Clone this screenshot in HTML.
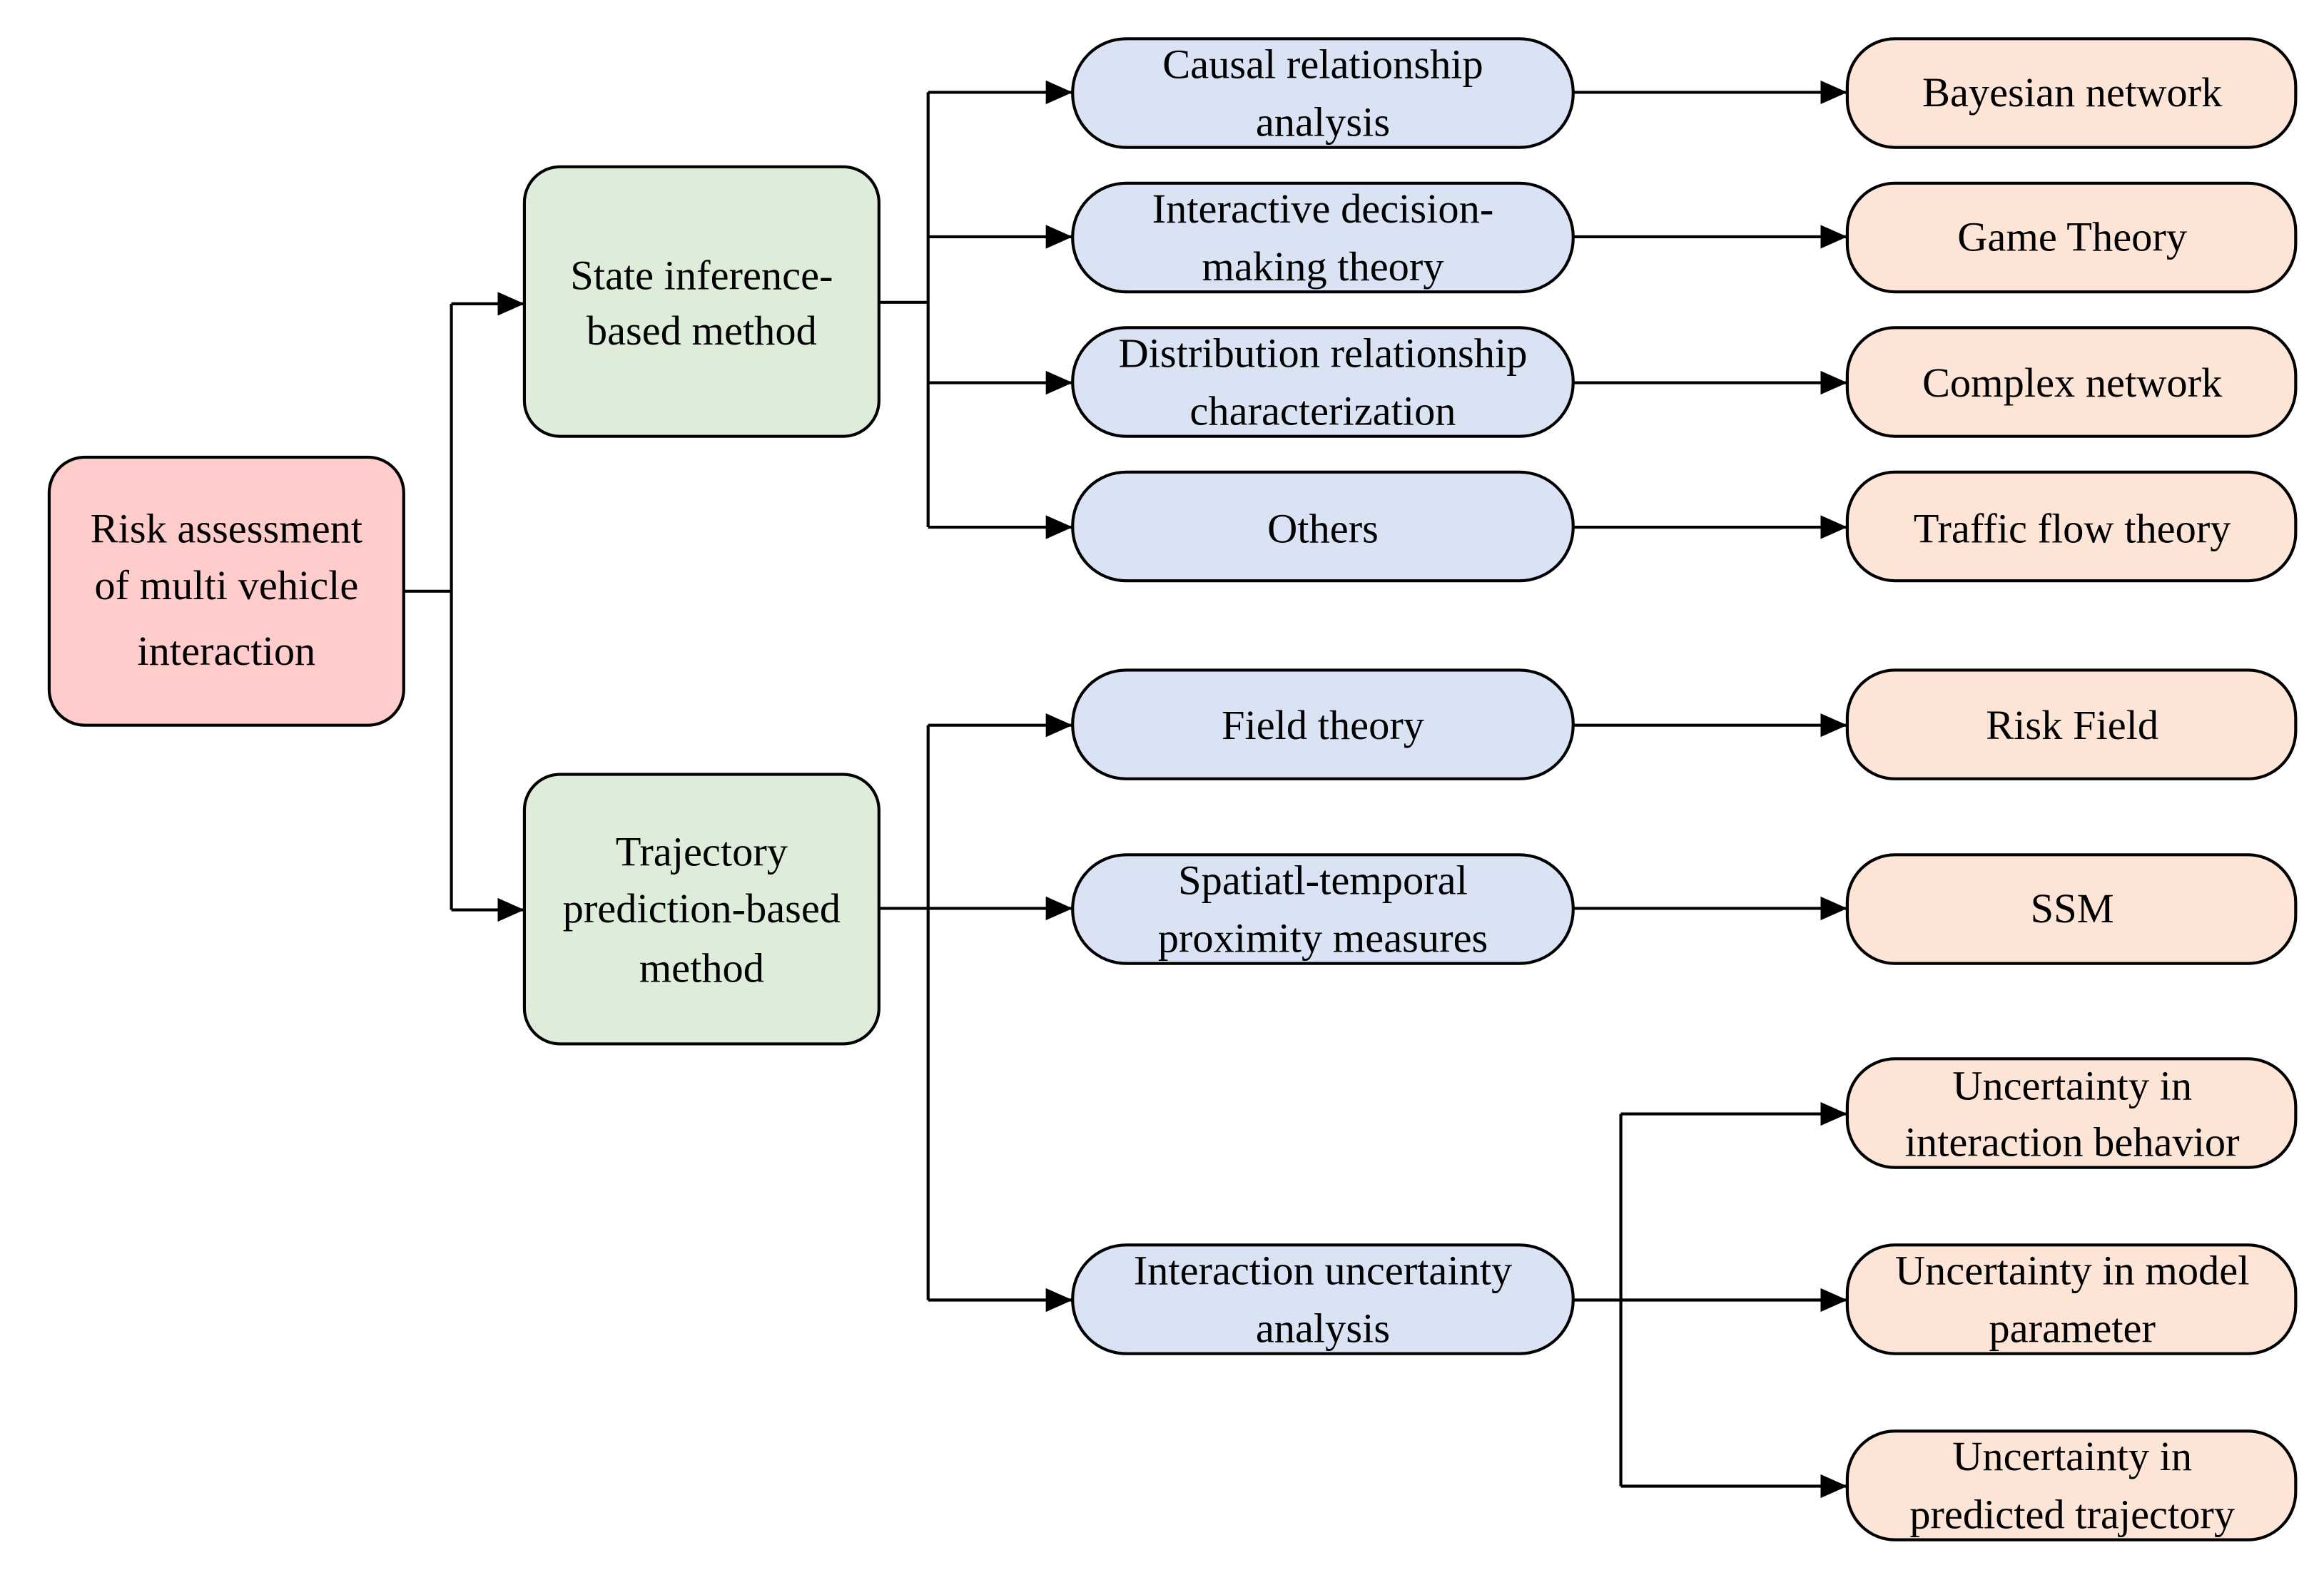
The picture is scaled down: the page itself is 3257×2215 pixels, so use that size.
<!DOCTYPE html>
<html><head><meta charset="utf-8"><style>html,body{margin:0;padding:0;background:#fff}svg{display:block}</style></head>
<body>
<svg width="3257" height="2215" viewBox="0 0 1560 1061" preserveAspectRatio="none" xmlns="http://www.w3.org/2000/svg">
<defs><marker id="a" markerWidth="10" markerHeight="10" refX="9" refY="5" orient="auto" markerUnits="userSpaceOnUse" viewBox="0 0 10 10"><path d="M0,0 L10,5 L0,10 z" fill="#000"/></marker>
<marker id="m" markerWidth="18" markerHeight="18" refX="18" refY="9" orient="auto" markerUnits="userSpaceOnUse"><path d="M0,1 L18,9 L0,17 z" fill="#000"/></marker></defs>
<g fill="none" stroke="#000" stroke-width="2">
<path d="M271,397 H303 M303,204 V611"/>
<path d="M303,204 H352" marker-end="url(#m)"/><path d="M303,611 H352" marker-end="url(#m)"/>
<path d="M590,203 H623 M623,62 V354"/>
<path d="M623,62 H720" marker-end="url(#m)"/><path d="M623,159 H720" marker-end="url(#m)"/><path d="M623,257 H720" marker-end="url(#m)"/><path d="M623,354 H720" marker-end="url(#m)"/>
<path d="M590,610 H623 M623,487 V873"/>
<path d="M623,487 H720" marker-end="url(#m)"/><path d="M623,610 H720" marker-end="url(#m)"/><path d="M623,873 H720" marker-end="url(#m)"/>
<path d="M1056,62 H1240" marker-end="url(#m)"/><path d="M1056,159 H1240" marker-end="url(#m)"/><path d="M1056,257 H1240" marker-end="url(#m)"/><path d="M1056,354 H1240" marker-end="url(#m)"/>
<path d="M1056,487 H1240" marker-end="url(#m)"/><path d="M1056,610 H1240" marker-end="url(#m)"/><path d="M1056,873 H1240" marker-end="url(#m)"/>
<path d="M1088,748 V998"/><path d="M1088,748 H1240" marker-end="url(#m)"/><path d="M1088,998 H1240" marker-end="url(#m)"/>
</g>
<g stroke="#000" stroke-width="2">
<rect x="33" y="307" width="238" height="180" rx="24" fill="#FFCCCC"/>
<rect x="352" y="112" width="238" height="181" rx="24" fill="#DDEDDA"/>
<rect x="352" y="520" width="238" height="181" rx="24" fill="#DDEDDA"/>
<g fill="#DAE3F3">
<rect x="720" y="26" width="336" height="73" rx="36"/>
<rect x="720" y="123" width="336" height="73" rx="36"/>
<rect x="720" y="220" width="336" height="73" rx="36"/>
<rect x="720" y="317" width="336" height="73" rx="36"/>
<rect x="720" y="450" width="336" height="73" rx="36"/>
<rect x="720" y="574" width="336" height="73" rx="36"/>
<rect x="720" y="836" width="336" height="73" rx="36"/>
</g>
<g fill="#FCE4D6">
<rect x="1240" y="26" width="301" height="73" rx="32"/>
<rect x="1240" y="123" width="301" height="73" rx="32"/>
<rect x="1240" y="220" width="301" height="73" rx="32"/>
<rect x="1240" y="317" width="301" height="73" rx="32"/>
<rect x="1240" y="450" width="301" height="73" rx="32"/>
<rect x="1240" y="574" width="301" height="73" rx="32"/>
<rect x="1240" y="711" width="301" height="73" rx="32"/>
<rect x="1240" y="836" width="301" height="73" rx="32"/>
<rect x="1240" y="961" width="301" height="73" rx="32"/>
</g>
</g>
<g font-family="'Liberation Serif', serif" font-size="28" text-anchor="middle" dominant-baseline="central" fill="#000">
<text x="152" y="355">Risk assessment</text><text x="152" y="393">of multi vehicle</text><text x="152" y="437">interaction</text>
<text x="471" y="185">State inference-</text><text x="471" y="222">based method</text>
<text x="471" y="572">Trajectory</text><text x="471" y="610">prediction-based</text><text x="471" y="650">method</text>
<text x="888" y="43">Causal relationship</text><text x="888" y="82">analysis</text>
<text x="888" y="140">Interactive decision-</text><text x="888" y="179">making theory</text>
<text x="888" y="237">Distribution relationship</text><text x="888" y="276">characterization</text>
<text x="888" y="355">Others</text>
<text x="888" y="487">Field theory</text>
<text x="888" y="591">Spatiatl-temporal</text><text x="888" y="630">proximity measures</text>
<text x="888" y="853">Interaction uncertainty</text><text x="888" y="892">analysis</text>
<text x="1391" y="62">Bayesian network</text>
<text x="1391" y="159">Game Theory</text>
<text x="1391" y="257">Complex network</text>
<text x="1391" y="355">Traffic flow theory</text>
<text x="1391" y="487">Risk Field</text>
<text x="1391" y="610">SSM</text>
<text x="1391" y="729">Uncertainty in</text><text x="1391" y="767">interaction behavior</text>
<text x="1391" y="853">Uncertainty in model</text><text x="1391" y="892">parameter</text>
<text x="1391" y="978">Uncertainty in</text><text x="1391" y="1017">predicted trajectory</text>
</g>
</svg>
</body></html>
